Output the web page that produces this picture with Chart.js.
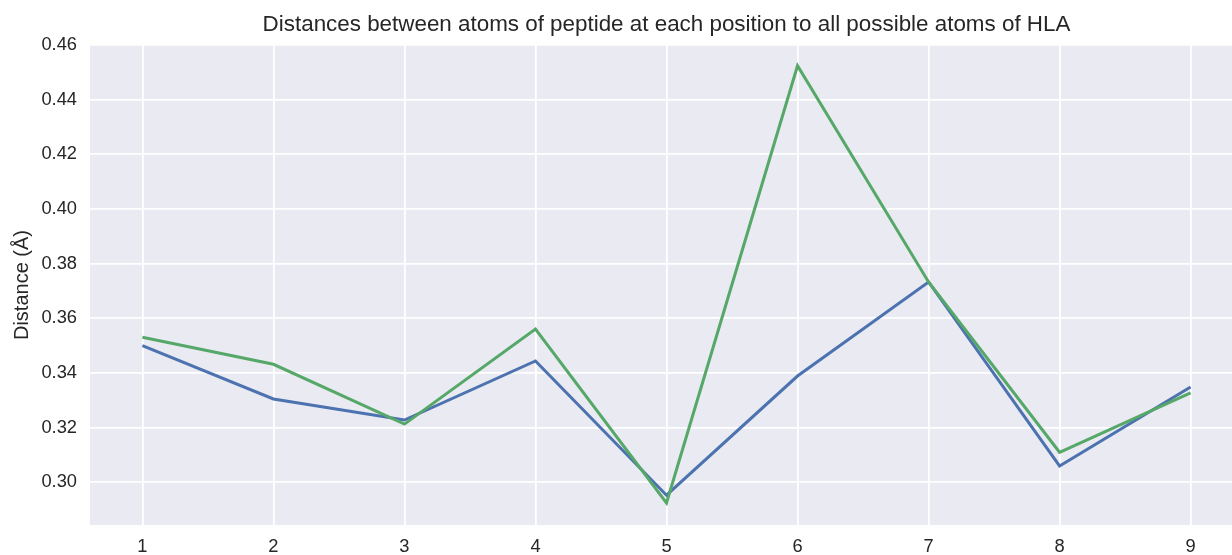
<!DOCTYPE html>
<html>
<head>
<meta charset="utf-8">
<script src="https://cdn.jsdelivr.net/npm/chart.js@4/dist/chart.umd.min.js"></script>
<style>
  html, body { margin: 0; padding: 0; background: #ffffff; overflow: hidden; }
  #wrap { width: 1232px; height: 555px; overflow: hidden; }
  canvas { display: block; }
</style>
</head>
<body>
<div id="wrap"><canvas id="chart" width="1245" height="555"></canvas></div>
<script>
// Peptide positions along the x axis
const positions = [1, 2, 3, 4, 5, 6, 7, 8, 9];
// Mean distances per position for the two peptide sets
const distancesA = [0.3500, 0.3305, 0.3228, 0.3444, 0.2953, 0.3389, 0.3733, 0.3060, 0.3349];
const distancesB = [0.3531, 0.3432, 0.3213, 0.3561, 0.2925, 0.4524, 0.3733, 0.3110, 0.3327];
// Axis tick values
const xTicks = [1, 2, 3, 4, 5, 6, 7, 8, 9];
const yTicks = [0.30, 0.32, 0.34, 0.36, 0.38, 0.40, 0.42, 0.44, 0.46];

const chartTitle = 'Distances between atoms of peptide at each position to all possible atoms of HLA';
const textColor = '#262626';
const fontFamily = '"Liberation Sans", Arial, Helvetica, sans-serif';

// Light grey-blue panel behind the plot area
const panelBackground = {
  id: 'panelBackground',
  beforeDraw(chart) {
    const { ctx, chartArea: a } = chart;
    ctx.save();
    ctx.fillStyle = '#EAEAF2';
    ctx.fillRect(a.left, a.top, a.right - a.left, a.bottom - a.top);
    ctx.restore();
  }
};

// Title centred over the plot area rather than the whole canvas
const axesTitle = {
  id: 'axesTitle',
  afterDraw(chart) {
    const { ctx, chartArea: a } = chart;
    ctx.save();
    ctx.fillStyle = textColor;
    ctx.font = '22.4px ' + fontFamily;
    ctx.textAlign = 'center';
    ctx.textBaseline = 'middle';
    ctx.fillText(chartTitle, (a.left + a.right) / 2, a.top - 20);
    ctx.restore();
  }
};

const toPoints = (vals) => positions.map((p, i) => ({ x: p, y: vals[i] }));

new Chart(document.getElementById('chart'), {
  type: 'line',
  data: {
    datasets: [
      {
        label: 'Set A',
        data: toPoints(distancesA),
        borderColor: '#4C72B0',
        borderWidth: 3,
        pointRadius: 0,
        tension: 0,
        fill: false,
        order: 1
      },
      {
        label: 'Set B',
        data: toPoints(distancesB),
        borderColor: '#55A868',
        borderWidth: 3,
        pointRadius: 0,
        tension: 0,
        fill: false,
        order: 0
      }
    ]
  },
  options: {
    responsive: false,
    animation: false,
    devicePixelRatio: 1,
    layout: { padding: { left: 0, right: 2, top: 45, bottom: 0 } },
    plugins: {
      legend: { display: false },
      tooltip: { enabled: false },
      title: { display: false }
    },
    scales: {
      x: {
        type: 'linear',
        min: 0.6,
        max: 9.4,
        border: { display: false },
        grid: { color: '#ffffff', lineWidth: 1.8, drawTicks: false },
        ticks: {
          color: textColor,
          font: { family: fontFamily, size: 18.3 },
          padding: 11,
          autoSkip: false,
          maxRotation: 0
        },
        afterBuildTicks(scale) { scale.ticks = xTicks.map(v => ({ value: v })); },
        afterFit(scale) { scale.height = 30; }
      },
      y: {
        type: 'linear',
        min: 0.2844,
        max: 0.46,
        border: { display: false },
        grid: { color: '#ffffff', lineWidth: 1.8, drawTicks: false },
        ticks: {
          color: textColor,
          font: { family: fontFamily, size: 18.3 },
          padding: 13,
          callback: (v) => Number(v).toFixed(2)
        },
        afterBuildTicks(scale) { scale.ticks = yTicks.map(v => ({ value: v })); },
        afterFit(scale) { scale.width = 90; },
        title: {
          display: true,
          text: 'Distance (Å)',
          color: textColor,
          font: { family: fontFamily, size: 20, lineHeight: 1.2 },
          padding: { top: 10, bottom: 0 }
        }
      }
    }
  },
  plugins: [panelBackground, axesTitle]
});
</script>
</body>
</html>
